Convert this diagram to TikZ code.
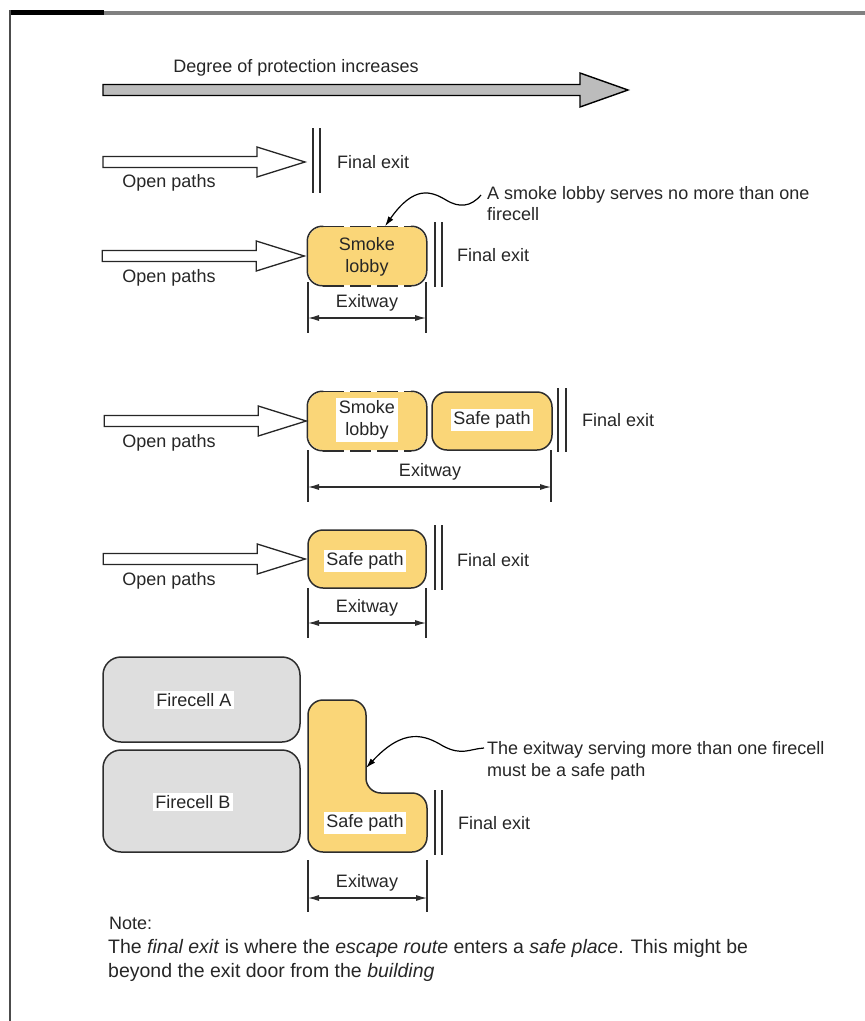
\documentclass[tikz,border=0pt]{standalone}
\usepackage{fontspec}
\setmainfont{Liberation Sans}
\usetikzlibrary{arrows.meta}

\definecolor{pathyellow}{RGB}{250,214,120}
\definecolor{cellgrey}{RGB}{222,222,222}
\definecolor{linegrey}{RGB}{45,45,45}
\definecolor{arrowgrey}{RGB}{188,188,188}

\begin{document}
\begin{tikzpicture}[x=1pt, y=-1pt,
		every node/.style={font=\fontsize{18}{21.5}\selectfont, inner sep=0pt, text=black!85},
		exitbox/.style={rectangle, rounded corners=15pt, fill=pathyellow, draw=linegrey, line width=1.5pt, minimum width=118pt, minimum height=58pt},
		lobbybox/.style={exitbox, draw=none},
		lobbyside/.style={draw=linegrey, line width=1.5pt, rounded corners=15pt},
		lobbyedge/.style={draw=linegrey, line width=1.5pt, dash pattern=on 21pt off 6pt},
		cellbox/.style={rectangle, rounded corners=18pt, fill=cellgrey, draw=linegrey, line width=1.5pt, minimum width=197pt},
		tag/.style={fill=white, inner sep=2.5pt},
		exitbar/.style={draw=linegrey, line width=1.4pt},
		dimtick/.style={draw=linegrey, line width=1.1pt},
		dimarrow/.style={draw=linegrey, line width=1.1pt, {Latex[length=11pt,width=6pt]}-{Latex[length=11pt,width=6pt]}},
		callout/.style={line width=1.2pt, -{Latex[length=10pt,width=6pt]}},
		pics/openarrow/.style={code={
				\draw[line width=1.3pt, draw=black!85, fill=white]
				(-#1,-5.5) -- (-48,-5.5) -- (-48,-15) -- (0,0) -- (-48,15) -- (-48,5.5) -- (-#1,5.5) -- cycle;}},
		pics/bigarrow/.style={code={
				\draw[line width=1.4pt, fill=arrowgrey]
				(-#1,-5.5) -- (-48,-5.5) -- (-48,-17) -- (0,0) -- (-48,17) -- (-48,5.5) -- (-#1,5.5) -- cycle;}}
	]
	\useasboundingbox (0,0) rectangle (865,1021);
	
	% Frame of the page
	\draw[line width=4pt, draw=black!50] (104,13) -- (865,13);
	\draw[line width=5pt] (9,12.5) -- (104,12.5);
	\draw[line width=2pt, draw=black!70] (10,10) -- (10,1021);
	
	% Degree of protection
	\node (degree) at (296,68) {Degree of protection increases};
	\pic at (628,90) {bigarrow=525};
	
	% Row 1: open paths straight to the final exit
	\coordinate (tip1) at (305,162);
	\pic at (tip1) {openarrow=202};
	\node (open1) at (169,183) {Open paths};
	\draw[exitbar] (313,128) -- (313,193);
	\draw[exitbar] (320,128) -- (320,193);
	\node[anchor=west] (final1) at (337,162) {Final exit};
	
	% Row 2: smoke lobby
	\node[lobbybox] (lobA) at (367,256) {};
	\draw[lobbyside] ([xshift=16pt]lobA.north west) -- (lobA.north west) -- (lobA.south west) -- ([xshift=16pt]lobA.south west);
	\draw[lobbyside] ([xshift=-16pt]lobA.north east) -- (lobA.north east) -- (lobA.south east) -- ([xshift=-16pt]lobA.south east);
	\draw[lobbyedge] ([xshift=16pt]lobA.north west) -- ([xshift=-16pt]lobA.north east);
	\draw[lobbyedge] ([xshift=16pt]lobA.south west) -- ([xshift=-16pt]lobA.south east);
	\node[align=center] (lobAtext) at (367,257) {Smoke\\lobby};
	\pic at ([xshift=-3pt]lobA.west) {openarrow=202};
	\node (open2) at (169,278) {Open paths};
	\draw[exitbar] (435,222) -- (435,287);
	\draw[exitbar] (442,222) -- (442,287);
	\node[anchor=west] (final2) at (457,255) {Final exit};
	\coordinate (ex2l) at (308,318);
	\coordinate (ex2r) at (426,318);
	\draw[dimtick] (308,282) -- (308,333);
	\draw[dimtick] (426,282) -- (426,333);
	\draw[dimarrow] (ex2l) -- (ex2r);
	\node (exw2) at (367,303) {Exitway};
	\node[anchor=west, align=left] (lobbynote) at (487,203.5) {A smoke lobby serves no more than one\\firecell};
	\coordinate (wave1) at (481,195);
	\draw[callout] (wave1) .. controls (471,207) and (459,208) .. (446,200)
		.. controls (431,191) and (414,185) .. ([xshift=18pt]lobA.north);
	
	% Row 3: smoke lobby then safe path
	\node[lobbybox] (lobB) at (367,421) {};
	\draw[lobbyside] ([xshift=16pt]lobB.north west) -- (lobB.north west) -- (lobB.south west) -- ([xshift=16pt]lobB.south west);
	\draw[lobbyside] ([xshift=-16pt]lobB.north east) -- (lobB.north east) -- (lobB.south east) -- ([xshift=-16pt]lobB.south east);
	\draw[lobbyedge] ([xshift=16pt]lobB.north west) -- ([xshift=-16pt]lobB.north east);
	\draw[lobbyedge] ([xshift=16pt]lobB.south west) -- ([xshift=-16pt]lobB.south east);
	\node[tag, align=center] (lobBtext) at (367,420) {Smoke\\lobby};
	\node[exitbox, minimum width=120pt] (safeB) at (492,421) {};
	\node[tag] (safeBtext) at (492,420) {Safe path};
	\pic at ([xshift=-1pt]lobB.west) {openarrow=202};
	\node (open3) at (169,443) {Open paths};
	\draw[exitbar] (558,388) -- (558,452);
	\draw[exitbar] (566,388) -- (566,452);
	\node[anchor=west] (final3) at (582,420) {Final exit};
	\coordinate (ex3l) at (308,487);
	\coordinate (ex3r) at (551,487);
	\draw[dimtick] (308,450) -- (308,502);
	\draw[dimtick] (551,450) -- (551,502);
	\draw[dimarrow] (ex3l) -- (ex3r);
	\node (exw3) at (430,472) {Exitway};
	
	% Row 4: safe path only
	\node[exitbox] (safeC) at (367,559) {};
	\node[tag] (safeCtext) at (365,561) {Safe path};
	\pic at ([xshift=-2pt]safeC.west) {openarrow=202};
	\node (open4) at (169,581) {Open paths};
	\draw[exitbar] (435,525) -- (435,590);
	\draw[exitbar] (442,525) -- (442,590);
	\node[anchor=west] (final4) at (457,560) {Final exit};
	\coordinate (ex4l) at (308,623);
	\coordinate (ex4r) at (426,623);
	\draw[dimtick] (308,588) -- (308,638);
	\draw[dimtick] (426,588) -- (426,638);
	\draw[dimarrow] (ex4l) -- (ex4r);
	\node (exw4) at (367,608) {Exitway};
	
	% Row 5: two firecells share a safe path
	\node[cellbox, minimum height=85pt] (cellA) at (201.5,699.5) {};
	\node[tag] (cellAtext) at (194,700) {Firecell A};
	\node[cellbox, minimum height=102pt] (cellB) at (201.5,801) {};
	\node[tag] (cellBtext) at (193,802) {Firecell B};
	\coordinate (Lbend) at (366,793);
	\draw[fill=pathyellow, draw=linegrey, line width=1.5pt, rounded corners=15pt]
		(367,852) -- (308,852) -- (308,700) -- (366,700) -- (Lbend) -- (427,793) -- (427,852) -- cycle;
	\node[tag] (safeDtext) at (365,823) {Safe path};
	\draw[exitbar] (435,790) -- (435,855);
	\draw[exitbar] (442,790) -- (442,855);
	\node[anchor=west] (final5) at (458,823) {Final exit};
	\coordinate (ex5l) at (308,898);
	\coordinate (ex5r) at (427,898);
	\draw[dimtick] (308,860) -- (308,912);
	\draw[dimtick] (427,860) -- (427,912);
	\draw[dimarrow] (ex5l) -- (ex5r);
	\node (exw5) at (367,883) {Exitway};
	\node[anchor=west, align=left] (safenote) at (487,761) {The exitway serving more than one firecell\\must be a safe path};
	\coordinate (wave2) at (484,748);
	\draw[callout] (wave2) .. controls (469,749) and (462,756) .. (443,746)
		.. controls (425,735) and (404,727) .. ([yshift=25pt]Lbend);
	
	% Note
	\node[anchor=west] (notehead) at (109,923) {Note:};
	\node[anchor=west, align=left, font=\fontsize{19.5}{24}\selectfont] (notetext) at (108,960)
	{The \textit{final exit} is where the \textit{escape route} enters a \textit{safe place}. This might be\\beyond the exit door from the \textit{building}};
\end{tikzpicture}
\end{document}
